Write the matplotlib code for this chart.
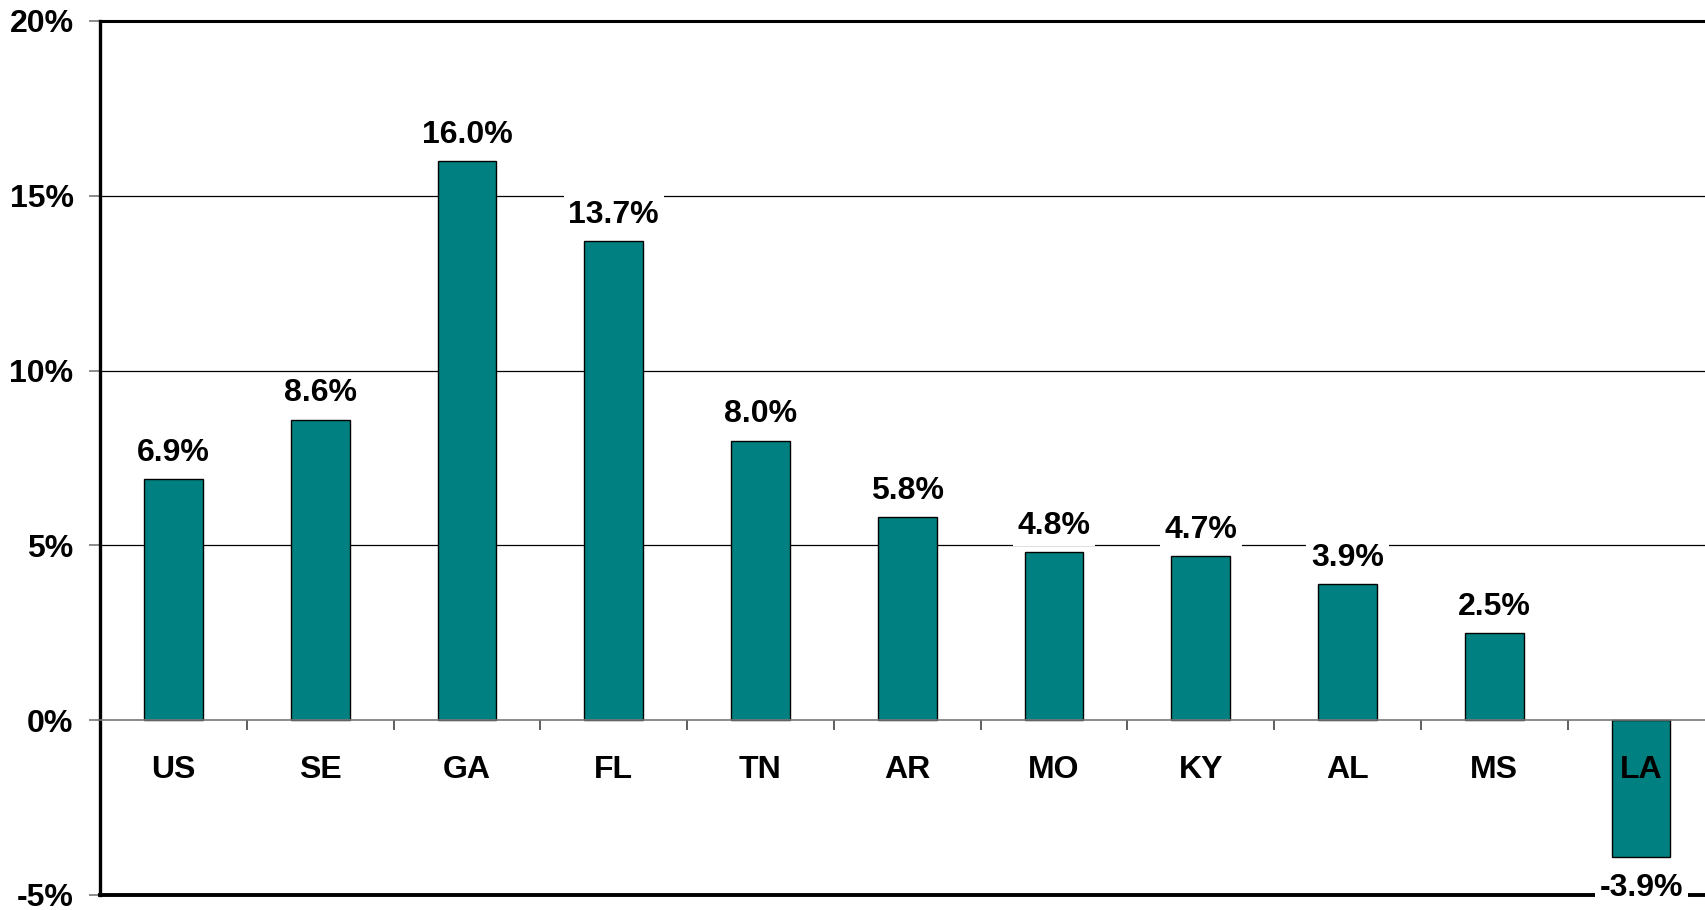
import matplotlib
matplotlib.use("Agg")
import matplotlib.pyplot as plt
import numpy as np
from matplotlib.ticker import FixedLocator

categories = ["US", "SE", "GA", "FL", "TN", "AR", "MO", "KY", "AL", "MS", "LA"]
values = [6.9, 8.6, 16.0, 13.7, 8.0, 5.8, 4.8, 4.7, 3.9, 2.5, -3.9]
yticks = [-5, 0, 5, 10, 15, 20]
ytick_labels = ["-5%", "0%", "5%", "10%", "15%", "20%"]

plt.rcParams['font.family'] = ['Liberation Sans', 'DejaVu Sans']
plt.rcParams['font.weight'] = 'bold'

fig = plt.figure(figsize=(17.06, 9.10), dpi=100)
ax = fig.add_axes([100/1706, 15/910, 1 - 100/1706 + 7/1706, 880/910 - 6/910])

x = np.arange(len(categories))
bars = ax.bar(x, values, width=0.4, color="#008080", edgecolor="black", linewidth=1.0, zorder=2)

ax.set_xlim(-0.5, 10.49)
ax.set_ylim(-5, 20)

# gridlines
for t in yticks[2:-1]:
    ax.axhline(t, color="black", linewidth=0.9, zorder=0.5)

# spines
ax.spines['right'].set_visible(False)
ax.spines['top'].set_linewidth(2.2)
ax.spines['top'].set_color('black')
ax.spines['left'].set_linewidth(2.4)
ax.spines['left'].set_color('black')
ax.spines['bottom'].set_position(('data', 0))
ax.spines['bottom'].set_color('#777777')
ax.spines['bottom'].set_linewidth(1.2)
ax.axhline(-5, color="black", linewidth=2.8, zorder=4, clip_on=False)

# y ticks
ax.set_yticks(yticks)
ax.set_yticklabels(ytick_labels, fontsize=23, fontweight='bold')
ax.tick_params(axis='y', length=8, width=1.2, color='#777777', pad=11)

# x ticks: boundaries as minor ticks; category labels drawn as text above bars
ax.set_xticks(x)
ax.set_xticklabels([])
ax.tick_params(axis='x', which='major', length=0)
ax.xaxis.set_minor_locator(FixedLocator(x[:-1] + 0.5))
ax.tick_params(axis='x', which='minor', length=7, width=1.2, color='#444444', direction='out')

for xi, c in zip(x, categories):
    ax.annotate(c, (xi, 0), xytext=(0, -36), textcoords='offset points',
                ha='center', va='center', fontsize=23, fontweight='bold',
                zorder=7, annotation_clip=False)

# data labels
for xi, v in zip(x, values):
    txt = f"{v:.1f}%"
    if v >= 0:
        ax.annotate(txt, (xi, v), xytext=(0, 8), textcoords='offset points',
                    ha='center', va='bottom', fontsize=23, fontweight='bold',
                    bbox=dict(boxstyle='square,pad=0.15', fc='white', ec='none'),
                    zorder=6, annotation_clip=False)
    else:
        ax.annotate(txt, (xi, v), xytext=(0, -12), textcoords='offset points',
                    ha='center', va='top', fontsize=23, fontweight='bold',
                    bbox=dict(boxstyle='square,pad=0.15', fc='white', ec='none'),
                    zorder=6, annotation_clip=False)

fig.savefig("out.png", dpi=100)
